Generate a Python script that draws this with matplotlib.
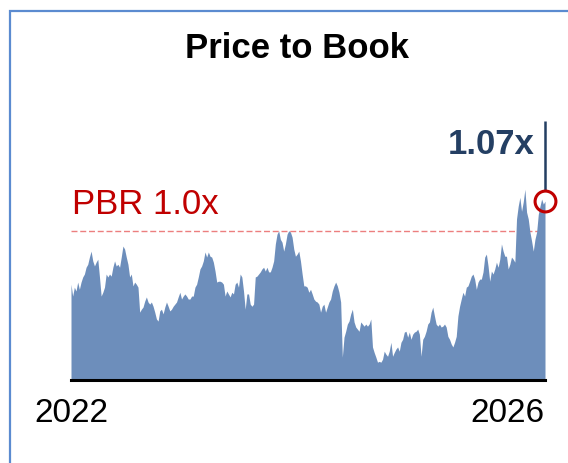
import pandas as pd
import matplotlib.pyplot as plt
from matplotlib.patches import Rectangle

plt.rcParams['font.family'] = ['Liberation Sans', 'DejaVu Sans']

# price-to-book history (Jan 2022 -> Feb 2026)
pbr = [
    0.874, 0.846, 0.867, 0.858, 0.879, 0.862, 0.879, 0.891, 0.898, 0.914, 0.921, 0.938, 0.952, 0.929, 0.917, 0.926,
    0.933, 0.891, 0.846, 0.855, 0.867, 0.898, 0.891, 0.898, 0.893, 0.914, 0.929, 0.917, 0.921, 0.914, 0.938, 0.964,
    0.957, 0.938, 0.921, 0.891, 0.898, 0.870, 0.879, 0.874, 0.867, 0.808, 0.815, 0.820, 0.834, 0.844, 0.832, 0.827,
    0.832, 0.822, 0.808, 0.792, 0.787, 0.811, 0.815, 0.804, 0.820, 0.832, 0.822, 0.811, 0.815, 0.822, 0.827, 0.832,
    0.844, 0.855, 0.839, 0.846, 0.851, 0.846, 0.839,
    0.839, 0.846, 0.846, 0.867, 0.874, 0.891, 0.910, 0.917, 0.929, 0.950, 0.938, 0.950, 0.940, 0.938, 0.926, 0.905,
    0.879, 0.881, 0.881, 0.879, 0.874, 0.846, 0.858, 0.851, 0.844, 0.855, 0.851, 0.874, 0.879, 0.867, 0.898, 0.891,
    0.858, 0.815, 0.851, 0.851, 0.827, 0.822, 0.827, 0.891, 0.893, 0.898, 0.903, 0.910, 0.914, 0.905, 0.914, 0.903,
    0.903, 0.914, 0.929, 0.969, 0.992, 1.000, 0.980, 0.973, 0.952, 0.969, 0.992, 1.000, 0.997, 0.985, 0.957, 0.940,
    0.945, 0.952, 0.929, 0.898, 0.870,
    0.870, 0.867, 0.855, 0.862, 0.851, 0.839, 0.834, 0.832, 0.827, 0.808, 0.822, 0.827, 0.808, 0.820, 0.832, 0.839,
    0.858, 0.870, 0.879, 0.870, 0.855, 0.832, 0.702, 0.749, 0.763, 0.780, 0.787, 0.804, 0.815, 0.785, 0.773, 0.768,
    0.763, 0.785, 0.780, 0.775, 0.780, 0.775, 0.780, 0.792, 0.726, 0.713, 0.702, 0.690, 0.692, 0.690, 0.697, 0.716,
    0.709, 0.704, 0.716, 0.737, 0.704, 0.713, 0.721, 0.726, 0.716, 0.737, 0.744, 0.761, 0.763, 0.749, 0.761, 0.744,
    0.756, 0.761, 0.763, 0.768,
    0.756, 0.704, 0.744, 0.751, 0.763, 0.780, 0.785, 0.808, 0.820, 0.799, 0.780, 0.775, 0.780, 0.773, 0.775, 0.780,
    0.773, 0.751, 0.744, 0.733, 0.726, 0.737, 0.751, 0.799, 0.822, 0.839, 0.855, 0.846, 0.867, 0.870, 0.881, 0.893,
    0.898, 0.886, 0.862, 0.879, 0.886, 0.886, 0.903, 0.938, 0.945, 0.917, 0.881, 0.905, 0.898, 0.910, 0.926, 0.914,
    0.933, 0.969, 0.952, 0.940, 0.940, 0.910, 0.921, 0.938, 0.933, 0.926, 1.028, 1.058, 1.079, 1.046, 1.068, 1.098,
    1.044, 1.028, 0.997, 0.976, 0.952, 0.980, 0.997, 1.039, 1.058, 1.075, 1.063, 1.070,
]
dates = pd.date_range('2022-01-03', '2026-02-13', periods=len(pbr))
ref_level = 1.0
year_labels = ['2022', '2026']

W, H = 568, 464
fig = plt.figure(figsize=(W / 100, H / 100), dpi=100)

# frame (only left/top edges visible in the crop)
fig.patches.append(Rectangle((10 / W, -0.2), 1.5, 1.2 - 12 / H, transform=fig.transFigure,
                             fill=False, edgecolor='#5b8bd0', linewidth=1.6))

ax = fig.add_axes([71 / W, 1 - 381 / H, (545 - 71) / W, (381 - 122) / H])
# dashed reference sits behind the area
ax.axhline(ref_level, color='#ec7f7f', lw=1.0, linestyle=(0, (4.3, 2.0)), zorder=1)
ax.fill_between(dates, 0.648, pbr, color='#6d8ebb', linewidth=0, zorder=2)
ax.set_xlim(dates[0], dates[-1])
ax.set_ylim(0.648, 1.259)

# latest value callout
ax.vlines(dates[-1], pbr[-1] + 0.026, 1.259, color='#243f63', lw=1.8, clip_on=False, zorder=3)
ax.plot(dates[-1], pbr[-1], marker='o', ms=15, mfc='none', mec='#c00000', mew=2.2, clip_on=False, zorder=5)

for s in ['top', 'right', 'left']:
    ax.spines[s].set_visible(False)
ax.spines['bottom'].set_linewidth(2.2)
ax.set_xticks([])
ax.set_yticks([])

fig.text(297 / W, 1 - 48 / H, 'Price to Book', ha='center', va='center', fontsize=25, fontweight='bold')
fig.text(72 / W, 1 - 205 / H, f'PBR {ref_level:.1f}x', ha='left', va='center', fontsize=25, color='#c00000')
fig.text(535 / W, 1 - 145 / H, f'{pbr[-1]:.2f}x', ha='right', va='center', fontsize=25,
         fontweight='bold', color='#243f63')
fig.text(71 / W, 1 - 414 / H, year_labels[0], ha='center', va='center', fontsize=24)
fig.text(545 / W, 1 - 414 / H, year_labels[1], ha='right', va='center', fontsize=24)

fig.savefig('out.png', dpi=100)
